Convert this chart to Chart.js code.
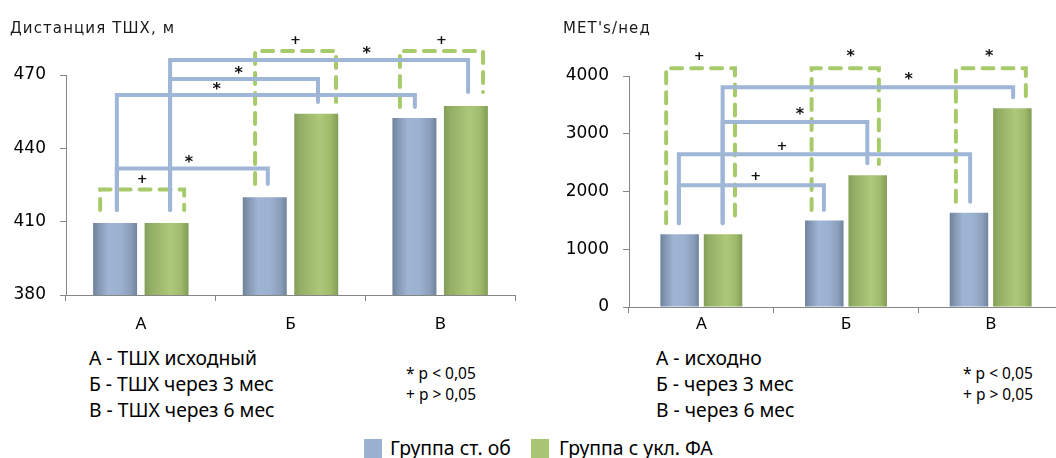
<!DOCTYPE html>
<html lang="ru">
<head>
<meta charset="utf-8">
<title>ТШХ и MET's</title>
<script src="https://cdn.jsdelivr.net/npm/chart.js@4.4.1/dist/chart.umd.min.js"></script>
<style>
  html, body { margin: 0; padding: 0; background: #fff; overflow: hidden; }
  body { width: 1056px; height: 458px; position: relative; font-family: "Noto Sans", sans-serif; color: #000; }
  canvas { position: absolute; top: 0; }
  #distChart { left: 0; }
  #metChart { left: 530px; }
  .axis-title { position: absolute; top: 21px; font-family: "DejaVu Sans", sans-serif; font-size: 15px; line-height: 15px; letter-spacing: 1.1px; color: #1a1a1a; white-space: nowrap; }
  .notes { position: absolute; top: 345px; font-size: 19.3px; line-height: 26px; white-space: nowrap; }
  .sig { position: absolute; top: 363px; font-size: 15.5px; line-height: 21px; white-space: nowrap; }
  .sw { position: absolute; top: 439px; width: 18px; height: 19px; }
  .lg { position: absolute; top: 438px; font-size: 19.4px; line-height: 19px; white-space: nowrap; }
</style>
</head>
<body>
<canvas id="distChart" width="530" height="340"></canvas>
<canvas id="metChart" width="545" height="340"></canvas>

<div class="axis-title" style="left:10px">Дистанция ТШХ, м</div>
<div class="axis-title" style="left:563px">MET's/нед</div>

<div class="notes" style="left:89px">А - ТШХ исходный<br>Б - ТШХ через 3 мес<br>В - ТШХ через 6 мес</div>
<div class="sig" style="left:406px">* p &lt; 0,05<br>+ p &gt; 0,05</div>

<div class="notes" style="left:656px">А - исходно<br>Б - через 3 мес<br>В - через 6 мес</div>
<div class="sig" style="left:963px">* p &lt; 0,05<br>+ p &gt; 0,05</div>

<div class="sw" style="left:364px;background:#9bb1d2"></div>
<div class="lg" style="left:390px">Группа ст. об</div>
<div class="sw" style="left:531px;background:#a8c574"></div>
<div class="lg" style="left:559px">Группа с укл. ФА</div>

<script>
// ---- data ----
const categories = ['А', 'Б', 'В'];
const seriesNames = ['Группа ст. об', 'Группа с укл. ФА'];

// six-minute walk distance, m
const distStandard = [409.5, 420, 452.4];
const distExercise = [409.5, 454.1, 457.3];
const distTicks = [380, 410, 440, 470];

// physical activity, MET's per week
const metStandard = [1260, 1500, 1630];
const metExercise = [1260, 2280, 3440];
const metTicks = [0, 1000, 2000, 3000, 4000];

// Comparison brackets. from/to: [category, series, shift in bar widths];
// level and feet are in axis units; the mark sits at fraction "at" along the bracket.
const distBrackets = [
  { style: 'dashed', from: [0, 0, -0.34], to: [0, 1, 0.40], level: 423.2, feet: [414.8, 414.8], mark: '+', at: 0.5,   markLevel: 427.5 },
  { style: 'solid',  from: [0, 0, 0.04],  to: [1, 0, 0.07], level: 431.7, feet: [414.8, 425.4], mark: '*', at: 0.477, markLevel: 435.6 },
  { style: 'solid',  from: [0, 0, 0.04],  to: [2, 0, 0.01], level: 461.8, feet: [414.8, 456.9], mark: '*', at: 0.335, markLevel: 465.5 },
  { style: 'solid',  from: [0, 1, 0.08],  to: [1, 1, 0.04], level: 468.4, feet: [414.8, 459.0], mark: '*', at: 0.464, markLevel: 472.0 },
  { style: 'solid',  from: [0, 1, 0.08],  to: [2, 1, 0.05], level: 476.1, feet: [414.8, 463.0], mark: '*', at: 0.66,  markLevel: 480.2 },
  { style: 'dashed', from: [1, 0, -0.22], to: [1, 1, 0.45], level: 479.8, feet: [425.4, 459.0], mark: '+', at: 0.5,   markLevel: 484.3 },
  { style: 'dashed', from: [2, 0, -0.33], to: [2, 1, 0.39], level: 479.8, feet: [456.9, 463.0], mark: '+', at: 0.5,   markLevel: 484.3 }
];

const metBrackets = [
  { style: 'dashed', from: [0, 0, -0.35], to: [0, 1, 0.31],  level: 4133, feet: [1449, 1449], mark: '+', at: 0.48,  markLevel: 4346 },
  { style: 'solid',  from: [0, 0, -0.02], to: [1, 0, -0.01], level: 2107, feet: [1449, 1680], mark: '+', at: 0.53,  markLevel: 2268 },
  { style: 'solid',  from: [0, 0, -0.02], to: [2, 0, 0.03],  level: 2644, feet: [1449, 1823], mark: '+', at: 0.354, markLevel: 2788 },
  { style: 'solid',  from: [0, 1, -0.01], to: [1, 1, -0.01], level: 3203, feet: [1449, 2488], mark: '*', at: 0.535, markLevel: 3394 },
  { style: 'solid',  from: [0, 1, -0.01], to: [2, 1, 0.02],  level: 3804, feet: [1449, 3631], mark: '*', at: 0.64,  markLevel: 4000 },
  { style: 'dashed', from: [1, 0, -0.33], to: [1, 1, 0.29],  level: 4133, feet: [1680, 2476], mark: '*', at: 0.58,  markLevel: 4390 },
  { style: 'dashed', from: [2, 0, -0.34], to: [2, 1, 0.35],  level: 4133, feet: [1823, 3614], mark: '*', at: 0.475, markLevel: 4390 }
];

// ---- styling ----
const AXIS_GRAY = '#868686';
const SWATCH = ['#9bb1d2', '#a8c574'];
const SHADES = [
  [[0, '#6f829c'], [0.12, '#8396b1'], [0.35, '#a0b5d4'], [0.62, '#9cb1d0'], [0.86, '#8a9ebb'], [1, '#70839c']],
  [[0, '#849e59'], [0.15, '#94af66'], [0.58, '#adc878'], [0.82, '#9fbb6b'], [1, '#829d57']]
];
const BRACKET_COLOR = { solid: '#9fb6d7', dashed: '#a7ca6b' };

// cylindrical shading across every bar
const barShading = {
  id: 'barShading',
  beforeDatasetsDraw(chart) {
    const ctx = chart.ctx;
    chart.data.datasets.forEach((ds, i) => {
      chart.getDatasetMeta(i).data.forEach(bar => {
        const { x, width } = bar.getProps(['x', 'width'], true);
        const g = ctx.createLinearGradient(x - width / 2, 0, x + width / 2, 0);
        SHADES[i].forEach(([o, c]) => g.addColorStop(o, c));
        bar.options = Object.assign({}, bar.options, { backgroundColor: g });
      });
    });
  }
};

// significance brackets with their marks
const brackets = {
  id: 'brackets',
  afterDatasetsDraw(chart, args, opts) {
    const { ctx } = chart;
    const y = chart.scales.y;
    const barX = ([cat, ds, shift]) => {
      const bar = chart.getDatasetMeta(ds).data[cat];
      const { x, width } = bar.getProps(['x', 'width'], true);
      return x + shift * width;
    };
    const items = [...opts.items].sort((a, b) => (a.style === 'dashed' ? 0 : 1) - (b.style === 'dashed' ? 0 : 1));
    ctx.save();
    items.forEach(b => {
      const x1 = barX(b.from), x2 = barX(b.to);
      const yl = y.getPixelForValue(b.level);
      ctx.beginPath();
      ctx.lineWidth = 4;
      ctx.strokeStyle = BRACKET_COLOR[b.style];
      ctx.setLineDash(b.style === 'dashed' ? [11, 9] : []);
      ctx.lineCap = 'round';
      ctx.lineJoin = 'miter';
      ctx.moveTo(x1, y.getPixelForValue(b.feet[0]));
      ctx.lineTo(x1, yl);
      ctx.lineTo(x2, yl);
      ctx.lineTo(x2, y.getPixelForValue(b.feet[1]));
      ctx.stroke();
    });
    ctx.setLineDash([]);
    ctx.fillStyle = '#111';
    ctx.textAlign = 'center';
    ctx.textBaseline = 'alphabetic';
    items.forEach(b => {
      const x1 = barX(b.from), x2 = barX(b.to);
      const mx = x1 + (x2 - x1) * b.at;
      const my = y.getPixelForValue(b.markLevel);
      ctx.font = b.mark === '*' ? 'bold 16px "DejaVu Sans"' : 'bold 13px "DejaVu Sans"';
      const m = ctx.measureText(b.mark);
      ctx.fillText(b.mark, mx, my + (m.actualBoundingBoxAscent - m.actualBoundingBoxDescent) / 2);
    });
    ctx.restore();
  }
};

function buildChart(id, p) {
  return new Chart(document.getElementById(id), {
    type: 'bar',
    data: {
      labels: categories,
      datasets: [
        { label: seriesNames[0], data: p.standard, backgroundColor: SWATCH[0], borderWidth: 0,
          categoryPercentage: p.cp, barPercentage: p.bp },
        { label: seriesNames[1], data: p.exercise, backgroundColor: SWATCH[1], borderWidth: 0,
          categoryPercentage: p.cp, barPercentage: p.bp }
      ]
    },
    options: {
      responsive: false,
      animation: false,
      devicePixelRatio: 1,
      events: [],
      layout: { padding: p.padding },
      plugins: {
        legend: { display: false },
        tooltip: { enabled: false },
        brackets: { items: p.brackets }
      },
      scales: {
        x: {
          grid: { display: true, drawOnChartArea: false, drawTicks: true, tickLength: 6, color: AXIS_GRAY, offset: true },
          border: { color: AXIS_GRAY, width: 1 },
          ticks: { color: '#000', padding: p.xPad, font: { family: 'Noto Sans', size: 17 } },
          afterFit(s) { s.height = p.xHeight; }
        },
        y: {
          min: p.ticks[0],
          max: p.ticks[p.ticks.length - 1],
          grid: { display: true, drawOnChartArea: false, drawTicks: true, tickLength: 6, color: AXIS_GRAY },
          border: { color: AXIS_GRAY, width: 1 },
          ticks: {
            color: '#000', padding: 14, font: { family: 'DejaVu Sans', size: 17 },
            callback: v => String(v)
          },
          afterBuildTicks(s) { s.ticks = p.ticks.map(v => ({ value: v })); },
          afterFit(s) { s.width = p.yWidth; }
        }
      }
    },
    plugins: [barShading, brackets]
  });
}

buildChart('distChart', {
  standard: distStandard, exercise: distExercise, ticks: distTicks, brackets: distBrackets,
  cp: 0.688, bp: 0.854, yWidth: 66, xHeight: 45, xPad: 13,
  padding: { top: 75, left: 0, right: 15, bottom: 0 }
});

buildChart('metChart', {
  standard: metStandard, exercise: metExercise, ticks: metTicks, brackets: metBrackets,
  cp: 0.6, bp: 0.887, yWidth: 99, xHeight: 33, xPad: 1,
  padding: { top: 76, left: 0, right: 12, bottom: 0 }
});
</script>
</body>
</html>
